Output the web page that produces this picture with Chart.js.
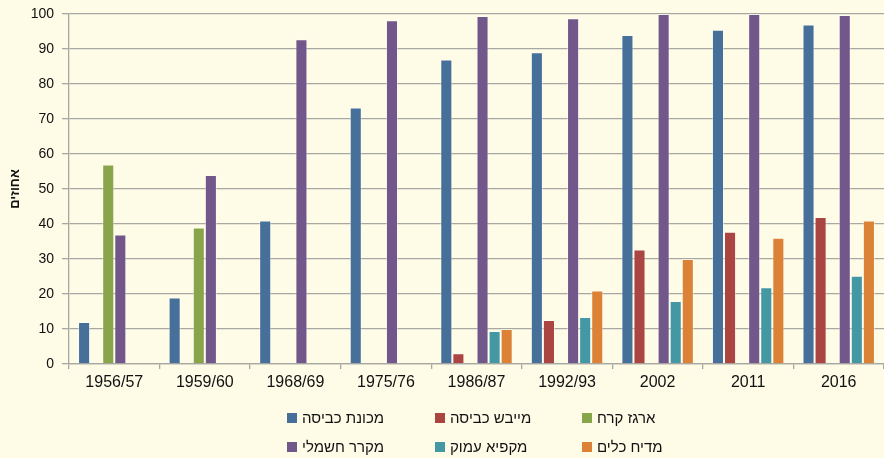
<!DOCTYPE html>
<html>
<head>
<meta charset="utf-8">
<script src="https://cdn.jsdelivr.net/npm/chart.js@4/dist/chart.umd.min.js"></script>
<style>
  html, body { margin: 0; padding: 0; background: #FEFBE7; }
  #wrap { position: relative; width: 884px; height: 458px; background: #FEFBE7; }
  #c { position: absolute; left: 0; top: 0; }
  .lg { position: absolute; font-family: "Liberation Sans", Arial, sans-serif; font-size: 15px; color: #111; white-space: nowrap; line-height: 18px; }
  .lg .box { display: inline-block; width: 10px; height: 10px; vertical-align: middle; margin-right: 5px; position: relative; top: -1px; }
</style>
</head>
<body>
<div id="wrap">
  <canvas id="c" width="884" height="458"></canvas>
  <div id="legend"></div>
</div>
<script>
const categories = ["1956/57", "1959/60", "1968/69", "1975/76", "1986/87", "1992/93", "2002", "2011", "2016"];
const seriesNames = ["מכונת כביסה", "מייבש כביסה", "ארגז קרח", "מקרר חשמלי", "מקפיא עמוק", "מדיח כלים"];
const washingMachine = [12, 19, 41, 73.3, 87, 89.1, 94, 95.5, 97];
const dryer = [null, null, null, null, 3.1, 12.6, 32.7, 37.8, 42];
const iceBox = [57, 39, null, null, null, null, null, null, null];
const refrigerator = [37, 54, 92.8, 98.2, 99.4, 98.8, 100, 100, 99.7];
const freezer = [null, null, null, null, 9.4, 13.4, 18, 21.9, 25.2];
const dishwasher = [null, null, null, null, 10, 21, 30, 36.1, 41];
const yTicks = [0, 10, 20, 30, 40, 50, 60, 70, 80, 90, 100];
const yTitle = "אחוזים";
const colors = ["#46709A", "#AA4541", "#89A54A", "#72578A", "#4398A4", "#DB8236"];

const allSeries = [washingMachine, dryer, iceBox, refrigerator, freezer, dishwasher];

const gridColor = "#A8A8A2";

new Chart(document.getElementById("c"), {
  type: "bar",
  data: {
    labels: categories,
    datasets: allSeries.map((d, i) => ({
      label: seriesNames[i],
      data: d,
      backgroundColor: colors[i],
      borderColor: "rgba(255,255,255,0.45)",
      borderWidth: 1,
      categoryPercentage: 0.8,
      barPercentage: 1.0
    }))
  },
  options: {
    responsive: false,
    animation: false,
    layout: { padding: { left: 0, right: 0, top: 14, bottom: 64 } },
    plugins: { legend: { display: false }, tooltip: { enabled: false } },
    scales: {
      x: {
        grid: { offset: true, drawOnChartArea: false, color: gridColor, tickLength: 5, lineWidth: 1.3 },
        border: { color: gridColor, width: 1.3 },
        ticks: { color: "#111", font: { family: "Liberation Sans, Arial, sans-serif", size: 16 }, padding: 4, maxRotation: 0 },
        afterFit: s => { s.height = 30; s.paddingLeft = 0; s.paddingRight = 0; }
      },
      y: {
        min: 0, max: 100,
        afterBuildTicks: s => { s.ticks = yTicks.map(v => ({ value: v })); },
        grid: { color: gridColor, tickLength: 7, lineWidth: 1.3 },
        border: { color: gridColor, width: 1.3 },
        ticks: { color: "#111", font: { family: "Liberation Sans, Arial, sans-serif", size: 14 }, padding: 8 },
        title: { display: true, text: yTitle, color: "#111", font: { family: "Liberation Sans, Arial, sans-serif", size: 13, weight: "bold" }, padding: { top: 8, bottom: 0 } },
        afterFit: s => { s.width = 69; s.paddingTop = 0; s.paddingBottom = 0; }
      }
    }
  }
});

// legend (3 columns x 2 rows)
const legendEl = document.getElementById("legend");
const colX = [287, 435, 582];
const rowY = [409, 438];
seriesNames.forEach((name, i) => {
  const d = document.createElement("div");
  d.className = "lg";
  d.style.left = colX[i % 3] + "px";
  d.style.top = rowY[Math.floor(i / 3)] + "px";
  d.innerHTML = '<span class="box" style="background:' + colors[i] + '"></span><span dir="rtl">' + name + '</span>';
  legendEl.appendChild(d);
});
</script>
</body>
</html>
